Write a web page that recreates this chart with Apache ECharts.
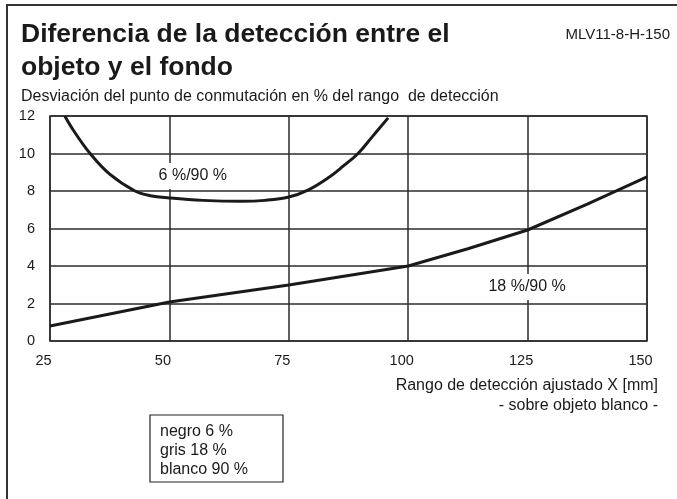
<!DOCTYPE html>
<html>
<head>
<meta charset="utf-8">
<script src="https://cdn.jsdelivr.net/npm/echarts@6/dist/echarts.min.js"></script>
<style>
html,body{margin:0;padding:0;background:#fff;}
#c{width:677px;height:499px;}
</style>
</head>
<body>
<div id="c"></div>
<script>
const xTicks = [25, 50, 75, 100, 125, 150];
const yTicks = [0, 2, 4, 6, 8, 10, 12];
// 6 %/90 % curve
const x6 = [28.1, 30, 33.4, 37.5, 42.8, 46, 50, 57, 65, 70, 75, 79, 83.5, 86.5, 89.5, 92.5, 95.8];
const y6 = [12, 11.2, 10, 8.9, 8.0, 7.75, 7.63, 7.5, 7.45, 7.5, 7.68, 8.05, 8.75, 9.35, 10, 10.9, 11.9];
// 18 %/90 % curve
const x18 = [25, 50, 75, 100, 112.5, 125, 137.5, 150];
const y18 = [0.8, 2.08, 2.99, 4.0, 4.92, 5.92, 7.3, 8.75];
const seriesNames = ['6 %/90 %', '18 %/90 %'];
const labelX = [54.9, 124.9];
const labelY = [8.8, 2.88];
const legendLines = ['negro 6 %', 'gris 18 %', 'blanco 90 %'];

const FONT = '"Liberation Sans", Arial, Helvetica, sans-serif';
const chart = echarts.init(document.getElementById('c'), null, {renderer: 'canvas'});
const zip = (a, b) => a.map((v, i) => [v, b[i]]);

const option = {
  animation: false,
  backgroundColor: '#fff',
  textStyle: {fontFamily: FONT},
  grid: {left: 50, right: 30, top: 116, bottom: 158, show: true, borderColor: '#2b2b2b', borderWidth: 1.5},
  xAxis: {
    type: 'value', min: xTicks[0], max: xTicks[xTicks.length - 1], interval: 25,
    axisLine: {show: false}, axisTick: {show: false},
    splitLine: {show: true, lineStyle: {color: '#2b2b2b', width: 1.5}},
    axisLabel: {color: '#1a1a1a', fontSize: 14.5, fontFamily: FONT, margin: 12, padding: [0, 13, 0, 0]}
  },
  yAxis: {
    type: 'value', min: yTicks[0], max: yTicks[yTicks.length - 1], interval: 2,
    axisLine: {show: false}, axisTick: {show: false},
    splitLine: {show: true, lineStyle: {color: '#2b2b2b', width: 1.5}},
    axisLabel: {color: '#1a1a1a', fontSize: 14.5, fontFamily: FONT, margin: 15}
  },
  series: [
    {type: 'line', data: zip(x6, y6), smooth: 0.4, showSymbol: false, symbol: 'none',
     lineStyle: {color: '#1a1a1a', width: 3}, z: 5},
    {type: 'line', data: zip(x18, y18), smooth: false, showSymbol: false, symbol: 'none',
     lineStyle: {color: '#1a1a1a', width: 3}, z: 5},
    {type: 'scatter', symbolSize: 0, z: 6, itemStyle: {opacity: 1}, emphasis: {disabled: true},
     data: seriesNames.map((n, i) => ({value: [labelX[i], labelY[i]], name: n})),
     label: {show: true, position: 'inside', formatter: p => p.name, color: '#1a1a1a', fontSize: 16,
             fontFamily: FONT, backgroundColor: '#fff', padding: [5, 3]}}
  ],
  graphic: [
    {type: 'polyline', shape: {points: [[7, 499], [7, 5], [677, 5]]}, style: {stroke: '#333', lineWidth: 2, fill: null}},
    {type: 'text', left: 21, top: 18, style: {text: 'Diferencia de la detección entre el\nobjeto y el fondo', font: 'bold 26.5px ' + FONT, fill: '#1a1a1a', lineHeight: 33}},
    {type: 'text', left: 21, top: 89, style: {text: 'Desviación del punto de conmutación en % del rango  de detección', font: '16px ' + FONT, fill: '#1a1a1a'}},
    {type: 'text', right: 7, top: 27, style: {text: 'MLV11-8-H-150', font: '15px ' + FONT, fill: '#1a1a1a'}},
    {type: 'text', right: 19, top: 378, style: {text: 'Rango de detección ajustado X [mm]', font: '16px ' + FONT, fill: '#1a1a1a'}},
    {type: 'text', right: 19, top: 398, style: {text: '- sobre objeto blanco -', font: '16px ' + FONT, fill: '#1a1a1a'}},
    {type: 'rect', shape: {x: 150, y: 415, width: 133, height: 67}, style: {stroke: '#222', lineWidth: 1.2, fill: '#fff'}},
    {type: 'text', left: 160, top: 422, style: {text: legendLines.join('\n'), font: '16px ' + FONT, fill: '#1a1a1a', lineHeight: 19}}
  ]
};
chart.setOption(option);
</script>
</body>
</html>
